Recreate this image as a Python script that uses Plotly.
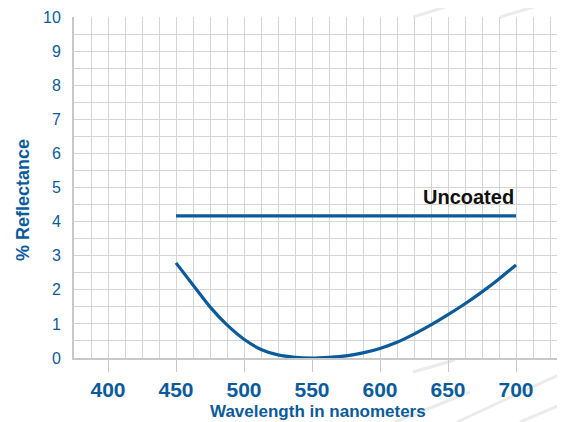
import plotly.graph_objects as go

# Data
wavelength = [450, 462.5, 475, 487.5, 500, 512.5, 525, 537.5, 550, 562.5, 575,
              587.5, 600, 612.5, 625, 637.5, 650, 662.5, 675, 687.5, 700]
coated = [2.79, 2.14, 1.50, 0.97, 0.55, 0.25, 0.09, 0.02, 0.00, 0.02, 0.06,
          0.15, 0.28, 0.46, 0.70, 0.97, 1.27, 1.59, 1.94, 2.32, 2.73]
uncoated_x = [450, 700]
uncoated_y = [4.17, 4.17]
x_ticks = [400, 450, 500, 550, 600, 650, 700]
y_ticks = [0, 1, 2, 3, 4, 5, 6, 7, 8, 9, 10]

BLUE = "#0b5b9b"
GRID = "#d4d4d4"
AX = "#c8c8c8"
FONT = "Liberation Sans, Arial, sans-serif"

# page has an 8px body margin: figure sized/offset to compensate
OFF = 8
W, H = 565 - OFF, 422 - OFF
L, R, T = 74 - OFF, 0, 17 - OFF
B = H - (358 - OFF)
pw, ph = W - L - R, H - T - B


def px(x):  # page pixel x -> paper fraction
    return (x - OFF - L) / pw


def py(y):  # page pixel y -> paper fraction
    return (H - B - (y - OFF)) / ph


fig = go.Figure()
fig.add_trace(go.Scatter(x=uncoated_x, y=uncoated_y, mode="lines",
                         line=dict(color=BLUE, width=3.2), hoverinfo="skip"))
fig.add_trace(go.Scatter(x=wavelength, y=coated, mode="lines",
                         line=dict(color=BLUE, width=3.2, shape="spline", smoothing=0.6),
                         hoverinfo="skip"))

fig.add_annotation(x=700, y=4.72, xref="x", yref="y", text="<b>Uncoated</b>",
                   showarrow=False, xanchor="right", yanchor="middle",
                   font=dict(family=FONT, size=20, color="#111111"))

fig.add_annotation(x=px(318), y=py(411), xref="paper", yref="paper",
                   text="<b>Wavelength in nanometers</b>", showarrow=False,
                   xanchor="center", yanchor="middle",
                   font=dict(family=FONT, size=17, color=BLUE))
fig.add_annotation(x=px(23), y=py(200), xref="paper", yref="paper",
                   text="<b>% Reflectance</b>", showarrow=False, textangle=-90,
                   xanchor="center", yanchor="middle",
                   font=dict(family=FONT, size=18, color=BLUE))

# decorative background streaks (page pixel endpoints)
streaks = [((413, 17), (468, 0)), ((500, 17), (557, 0)),
           ((395, 422), (470, 392)), ((413, 372), (455, 360)),
           ((457, 422), (565, 372)), ((520, 422), (565, 403))]
shapes = []
for (x0, y0), (x1, y1) in streaks:
    shapes.append(dict(type="line", xref="paper", yref="paper",
                       x0=px(x0), y0=py(y0), x1=px(x1), y1=py(y1),
                       line=dict(color="#ebebeb", width=3), layer="below"))
fig.update_layout(shapes=shapes)

fig.update_layout(
    width=W, height=H,
    margin=dict(l=L, r=R, t=T, b=B, pad=0, autoexpand=False),
    paper_bgcolor="white", plot_bgcolor="white",
    showlegend=False,
    font=dict(family=FONT, color=BLUE),
    xaxis=dict(range=[375, 375 + pw / 1.36], tickmode="array", tickvals=x_ticks,
               ticktext=[f"<b>{v}</b>" for v in x_ticks],
               tickfont=dict(family=FONT, size=21, color=BLUE),
               ticks="outside", ticklen=12, tickwidth=1, tickcolor=AX,
               showgrid=False, showline=True, linecolor=AX, linewidth=2,
               mirror=False, zeroline=False, automargin=False,
               minor=dict(dtick=12.5, tick0=375, showgrid=True, gridcolor=GRID,
                          gridwidth=1, ticks="")),
    yaxis=dict(range=[0, 10], tickmode="array", tickvals=y_ticks,
               tickfont=dict(family=FONT, size=16, color=BLUE),
               ticks="", ticklabelstandoff=8, automargin=False,
               showgrid=True, gridcolor=GRID, gridwidth=1,
               showline=True, linecolor=AX, linewidth=2, mirror=True,
               zeroline=False,
               minor=dict(dtick=0.5, tick0=0, showgrid=True, gridcolor=GRID,
                          gridwidth=1)),
)

fig.write_html("out.html")
